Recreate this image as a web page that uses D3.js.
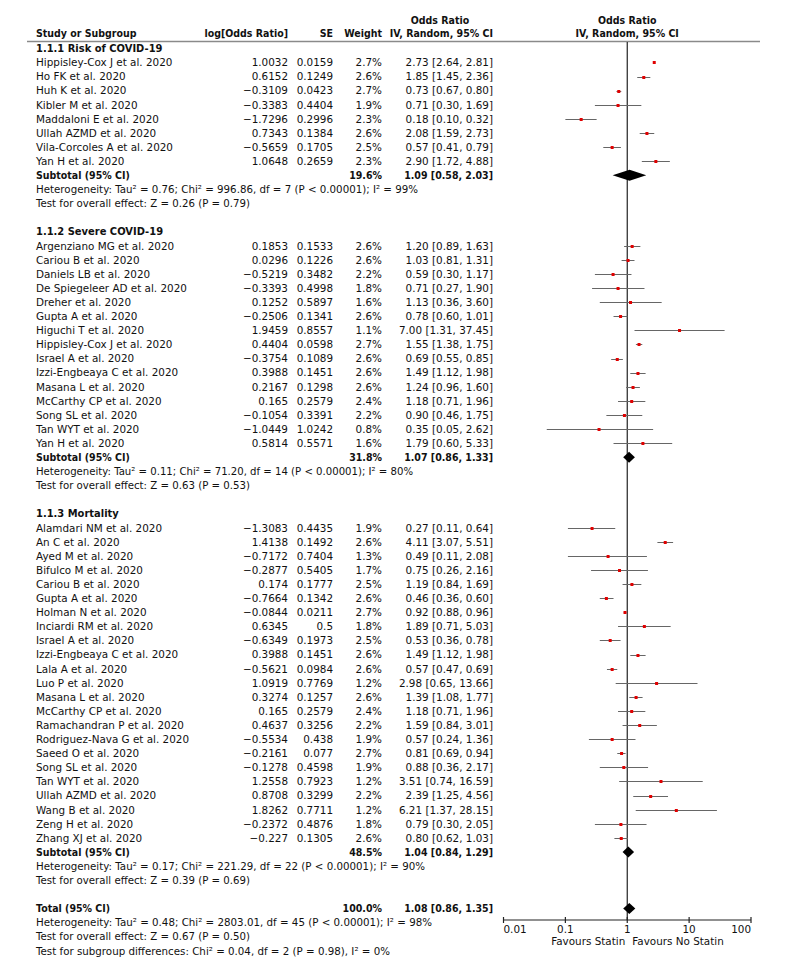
<!DOCTYPE html>
<html>
<head>
<meta charset="utf-8">
<script src="https://cdn.jsdelivr.net/npm/d3@7"></script>
<style>
  html, body { margin: 0; padding: 0; background: #fff; }
  svg { display: block; }
  text { font-family: "DejaVu Sans", Verdana, sans-serif; font-size: 10.4px; fill: #111; }
  .b { font-weight: bold; }
</style>
</head>
<body>
<svg id="chart" width="787" height="977"></svg>
<script>
// ---------- DATA ----------
const groupTitles = ["1.1.1 Risk of COVID-19", "1.1.2 Severe COVID-19", "1.1.3 Mortality"];

const studyGroup = [
  0,0,0,0,0,0,0,0,
  1,1,1,1,1,1,1,1,1,1,1,1,1,1,1,
  2,2,2,2,2,2,2,2,2,2,2,2,2,2,2,2,2,2,2,2,2,2,2
];
const studyNames = [
  "Hippisley-Cox J et al. 2020","Ho FK et al. 2020","Huh K et al. 2020","Kibler M et al. 2020",
  "Maddaloni E et al. 2020","Ullah AZMD et al. 2020","Vila-Corcoles A et al. 2020","Yan H et al. 2020",
  "Argenziano MG et al. 2020","Cariou B et al. 2020","Daniels LB et al. 2020","De Spiegeleer AD et al. 2020",
  "Dreher et al. 2020","Gupta A et al. 2020","Higuchi T et al. 2020","Hippisley-Cox J et al. 2020",
  "Israel A et al. 2020","Izzi-Engbeaya C et al. 2020","Masana L et al. 2020","McCarthy CP et al. 2020",
  "Song SL et al. 2020","Tan WYT et al. 2020","Yan H et al. 2020",
  "Alamdari NM et al. 2020","An C et al. 2020","Ayed M et al. 2020","Bifulco M et al. 2020",
  "Cariou B et al. 2020","Gupta A et al. 2020","Holman N et al. 2020","Inciardi RM et al. 2020",
  "Israel A et al. 2020","Izzi-Engbeaya C et al. 2020","Lala A et al. 2020","Luo P et al. 2020",
  "Masana L et al. 2020","McCarthy CP et al. 2020","Ramachandran P et al. 2020","Rodriguez-Nava G et al. 2020",
  "Saeed O et al. 2020","Song SL et al. 2020","Tan WYT et al. 2020","Ullah AZMD et al. 2020",
  "Wang B et al. 2020","Zeng H et al. 2020","Zhang XJ et al. 2020"
];
const logOR = [
  1.0032,0.6152,-0.3109,-0.3383,-1.7296,0.7343,-0.5659,1.0648,
  0.1853,0.0296,-0.5219,-0.3393,0.1252,-0.2506,1.9459,0.4404,-0.3754,0.3988,0.2167,0.165,-0.1054,-1.0449,0.5814,
  -1.3083,1.4138,-0.7172,-0.2877,0.174,-0.7664,-0.0844,0.6345,-0.6349,0.3988,-0.5621,1.0919,0.3274,0.165,
  0.4637,-0.5534,-0.2161,-0.1278,1.2558,0.8708,1.8262,-0.2372,-0.227
];
const seVals = [
  0.0159,0.1249,0.0423,0.4404,0.2996,0.1384,0.1705,0.2659,
  0.1533,0.1226,0.3482,0.4998,0.5897,0.1341,0.8557,0.0598,0.1089,0.1451,0.1298,0.2579,0.3391,1.0242,0.5571,
  0.4435,0.1492,0.7404,0.5405,0.1777,0.1342,0.0211,0.5,0.1973,0.1451,0.0984,0.7769,0.1257,0.2579,
  0.3256,0.438,0.077,0.4598,0.7923,0.3299,0.7711,0.4876,0.1305
];
const weights = [
  2.7,2.6,2.7,1.9,2.3,2.6,2.5,2.3,
  2.6,2.6,2.2,1.8,1.6,2.6,1.1,2.7,2.6,2.6,2.6,2.4,2.2,0.8,1.6,
  1.9,2.6,1.3,1.7,2.5,2.6,2.7,1.8,2.5,2.6,2.6,1.2,2.6,2.4,2.2,1.9,2.7,1.9,1.2,2.2,1.2,1.8,2.6
];
const orVals = [
  2.73,1.85,0.73,0.71,0.18,2.08,0.57,2.90,
  1.20,1.03,0.59,0.71,1.13,0.78,7.00,1.55,0.69,1.49,1.24,1.18,0.90,0.35,1.79,
  0.27,4.11,0.49,0.75,1.19,0.46,0.92,1.89,0.53,1.49,0.57,2.98,1.39,1.18,1.59,0.57,0.81,0.88,3.51,2.39,6.21,0.79,0.80
];
const ciLow = [
  2.64,1.45,0.67,0.30,0.10,1.59,0.41,1.72,
  0.89,0.81,0.30,0.27,0.36,0.60,1.31,1.38,0.55,1.12,0.96,0.71,0.46,0.05,0.60,
  0.11,3.07,0.11,0.26,0.84,0.36,0.88,0.71,0.36,1.12,0.47,0.65,1.08,0.71,0.84,0.24,0.69,0.36,0.74,1.25,1.37,0.30,0.62
];
const ciHigh = [
  2.81,2.36,0.80,1.69,0.32,2.73,0.79,4.88,
  1.63,1.31,1.17,1.90,3.60,1.01,37.45,1.75,0.85,1.98,1.60,1.96,1.75,2.62,5.33,
  0.64,5.51,2.08,2.16,1.69,0.60,0.96,5.03,0.78,1.98,0.69,13.66,1.77,1.96,3.01,1.36,0.94,2.17,16.59,4.56,28.15,2.05,1.03
];

const subWeights = [19.6, 31.8, 48.5];
const subOR   = [1.09, 1.07, 1.04];
const subLow  = [0.58, 0.86, 0.84];
const subHigh = [2.03, 1.33, 1.29];
const subHet = [
  "Heterogeneity: Tau² = 0.76; Chi² = 996.86, df = 7 (P < 0.00001); I² = 99%",
  "Heterogeneity: Tau² = 0.11; Chi² = 71.20, df = 14 (P < 0.00001); I² = 80%",
  "Heterogeneity: Tau² = 0.17; Chi² = 221.29, df = 22 (P < 0.00001); I² = 90%"
];
const subTest = [
  "Test for overall effect: Z = 0.26 (P = 0.79)",
  "Test for overall effect: Z = 0.63 (P = 0.53)",
  "Test for overall effect: Z = 0.39 (P = 0.69)"
];
const totalWeight = 100.0, totalOR = 1.08, totalLow = 0.86, totalHigh = 1.35;
const totalNotes = [
  "Heterogeneity: Tau² = 0.48; Chi² = 2803.01, df = 45 (P < 0.00001); I² = 98%",
  "Test for overall effect: Z = 0.67 (P = 0.50)",
  "Test for subgroup differences: Chi² = 0.04, df = 2 (P = 0.98), I² = 0%"
];
const axisTicks = [0.01, 0.1, 1, 10, 100];
const axisTickLabels = ["0.01", "0.1", "1", "10", "100"];
const favourLeft = "Favours Statin", favourRight = "Favours No Statin";

// ---------- LAYOUT ----------
const svg = d3.select("#chart");
const X = { name: 36, log: 288, se: 333, wt: 382, or: 493 };
const rowY0 = 48.3, pitch = 14.1;
const rowY = i => rowY0 + i * pitch;
const base = 3.8;
const x = d3.scaleLog().domain([0.01, 100]).range([503.5, 751]);
const axisY = 920;
// right edges of the note lines (layout only)
const subNoteEnds = [[418, 250], [413, 250], [425, 250]];
const totalNoteEnds = [432, 250, 390];
const BOLD_SQUEEZE = 0.91, TITLE_SQUEEZE = 0.955;

const minus = s => s.replace(/-/g, "\u2212");
const fmtCI = (o, l, h) => `${o.toFixed(2)} [${l.toFixed(2)}, ${h.toFixed(2)}]`;

function squeeze(sel, f) {
  const w = sel.node().getComputedTextLength();
  sel.attr("textLength", w * f).attr("lengthAdjust", "spacingAndGlyphs");
  return sel;
}
function fitTo(sel, endX) {
  sel.attr("textLength", endX - X.name).attr("lengthAdjust", "spacingAndGlyphs");
  return sel;
}

// Build row list
const rows = [];
let ri = 0;
for (let g = 0; g < 3; g++) {
  rows.push({ type: "group", i: ri++, g });
  studyNames.forEach((n, k) => { if (studyGroup[k] === g) rows.push({ type: "study", i: ri++, k }); });
  rows.push({ type: "sub", i: ri++, g });
  rows.push({ type: "note", i: ri++, text: subHet[g], end: subNoteEnds[g][0] });
  rows.push({ type: "note", i: ri++, text: subTest[g], end: subNoteEnds[g][1] });
  ri++; // blank
}
rows.push({ type: "total", i: ri++ });
totalNotes.forEach((t, j) => rows.push({ type: "note", i: ri++, text: t, end: totalNoteEnds[j] }));

// Headers
const hdr = svg.append("g");
const bt = (x0, y0, anchor, txt, f = BOLD_SQUEEZE) =>
  squeeze(hdr.append("text").attr("class", "b").attr("x", x0).attr("y", y0).attr("text-anchor", anchor).text(txt), f);
bt(X.name, 37, "start", "Study or Subgroup");
bt(X.log, 37, "end", "log[Odds Ratio]");
bt(X.se, 37, "end", "SE");
bt(X.wt, 37, "end", "Weight");
bt(440, 23.5, "middle", "Odds Ratio");
bt(X.or, 37, "end", "IV, Random, 95% CI");
bt(x(1), 23.5, "middle", "Odds Ratio");
bt(x(1), 37, "middle", "IV, Random, 95% CI");
svg.append("line").attr("x1", 27).attr("x2", 760).attr("y1", 41.5).attr("y2", 41.5)
  .attr("stroke", "#8a8a8a").attr("stroke-width", 1.6);

// Null line
svg.append("line").attr("x1", x(1)).attr("x2", x(1)).attr("y1", 42).attr("y2", axisY)
  .attr("stroke", "#222").attr("stroke-width", 1.2);

const tg = svg.append("g");
const t = (x0, y0, anchor, txt, bold) => {
  const s = tg.append("text").attr("x", x0).attr("y", y0).attr("text-anchor", anchor).text(txt);
  if (bold) { s.attr("class", "b"); squeeze(s, BOLD_SQUEEZE); }
  return s;
};
rows.forEach(r => {
  const y = rowY(r.i) + base;
  if (r.type === "group") {
    squeeze(tg.append("text").attr("class", "b").attr("x", X.name).attr("y", y).text(groupTitles[r.g]), TITLE_SQUEEZE);
  } else if (r.type === "study") {
    const k = r.k;
    t(X.name, y, "start", studyNames[k]);
    t(X.log, y, "end", minus(String(logOR[k])));
    t(X.se, y, "end", String(seVals[k]));
    t(X.wt, y, "end", weights[k].toFixed(1) + "%");
    t(X.or, y, "end", fmtCI(orVals[k], ciLow[k], ciHigh[k]));
  } else if (r.type === "sub") {
    t(X.name, y, "start", "Subtotal (95% CI)", true);
    t(X.wt, y, "end", subWeights[r.g].toFixed(1) + "%", true);
    t(X.or, y, "end", fmtCI(subOR[r.g], subLow[r.g], subHigh[r.g]), true);
  } else if (r.type === "total") {
    t(X.name, y, "start", "Total (95% CI)", true);
    t(X.wt, y, "end", totalWeight.toFixed(1) + "%", true);
    t(X.or, y, "end", fmtCI(totalOR, totalLow, totalHigh), true);
  } else if (r.type === "note") {
    fitTo(t(X.name, y, "start", r.text), r.end);
  }
});

// Plot marks
const pg = svg.append("g");
rows.filter(r => r.type === "study").forEach(r => {
  const k = r.k, yc = Math.round(rowY(r.i)) + 0.5;
  pg.append("line").attr("x1", x(ciLow[k])).attr("x2", x(ciHigh[k])).attr("y1", yc).attr("y2", yc)
    .attr("stroke", "#666").attr("stroke-width", 1);
  const s = 3;
  pg.append("rect").attr("x", x(orVals[k]) - s / 2).attr("y", yc - s / 2).attr("width", s).attr("height", s)
    .attr("fill", "#e00000");
});
function diamond(o, l, h, yc) {
  const hh = 5.5;
  pg.append("path")
    .attr("d", `M${x(l)},${yc} L${x(o)},${yc - hh} L${x(h)},${yc} L${x(o)},${yc + hh} Z`)
    .attr("fill", "#000");
}
rows.filter(r => r.type === "sub").forEach(r => diamond(subOR[r.g], subLow[r.g], subHigh[r.g], rowY(r.i)));
rows.filter(r => r.type === "total").forEach(r => diamond(totalOR, totalLow, totalHigh, rowY(r.i)));

// Axis
const ag = svg.append("g");
ag.append("line").attr("x1", x(0.01)).attr("x2", x(100)).attr("y1", axisY).attr("y2", axisY)
  .attr("stroke", "#222").attr("stroke-width", 1.2);
axisTicks.forEach((tk, i) => {
  ag.append("line").attr("x1", x(tk)).attr("x2", x(tk)).attr("y1", axisY - 3).attr("y2", axisY + 3)
    .attr("stroke", "#222").attr("stroke-width", 1.2);
  const anchor = i === 0 ? "start" : (i === axisTicks.length - 1 ? "end" : "middle");
  ag.append("text").attr("x", x(tk)).attr("y", axisY + 13).attr("text-anchor", anchor).text(axisTickLabels[i]);
});
ag.append("text").attr("x", x(1) - 2).attr("y", axisY + 25).attr("text-anchor", "end").text(favourLeft);
ag.append("text").attr("x", x(1) + 5).attr("y", axisY + 25).attr("text-anchor", "start").text(favourRight);
</script>
</body>
</html>
